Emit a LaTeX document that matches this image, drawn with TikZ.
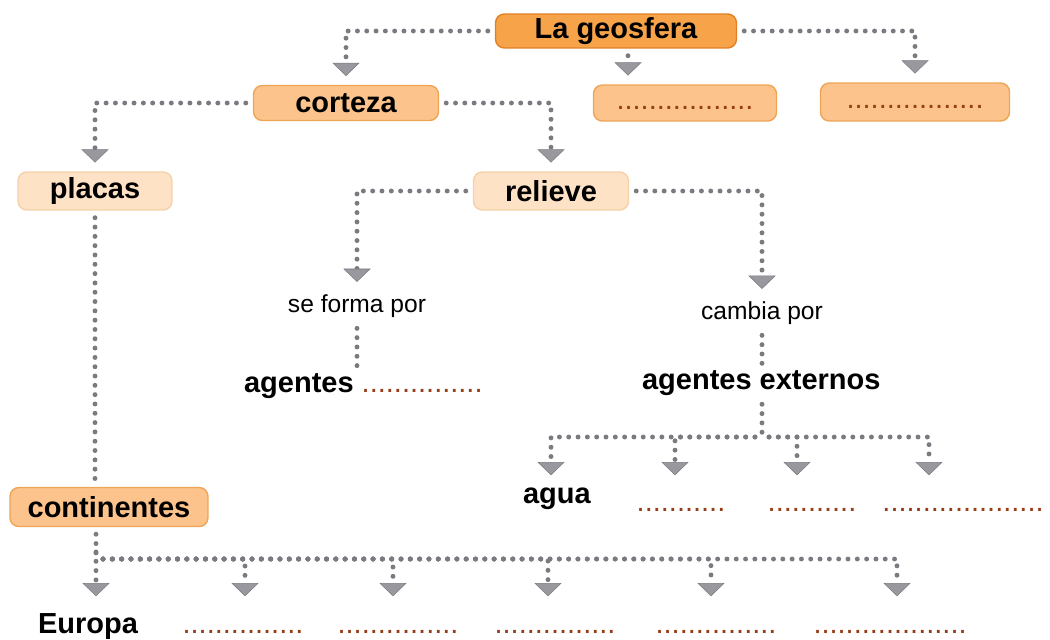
\documentclass[tikz,border=0pt]{standalone}
\usepackage{fontspec}
\setmainfont{Liberation Sans}
\usetikzlibrary{arrows.meta,positioning}

\definecolor{geofill}{RGB}{246,163,74}
\definecolor{geoline}{RGB}{226,128,36}
\definecolor{midfill}{RGB}{252,196,140}
\definecolor{midline}{RGB}{238,164,84}
\definecolor{palefill}{RGB}{253,226,198}
\definecolor{paleline}{RGB}{246,208,168}
\definecolor{linkgray}{RGB}{122,122,128}
\definecolor{tipgray}{RGB}{152,152,158}
\definecolor{dotbrown}{RGB}{150,62,24}

\newcommand{\blankdots}[1]{\textcolor{dotbrown}{\mdseries #1}}

\begin{document}
\begin{tikzpicture}[
    x=0.02cm, y=-0.02cm,
    box/.style={
      rounded corners=5pt,
      line width=0.8pt,
      minimum height=0.7cm,
      inner sep=0pt,
      font=\fontsize{16.5}{19}\selectfont\bfseries
    },
    geobox/.style={box, draw=geoline, fill=geofill},
    midbox/.style={box, draw=midline, fill=midfill},
    palebox/.style={box, draw=paleline, fill=palefill, minimum height=0.76cm},
    word/.style={font=\fontsize{16.5}{19}\selectfont\bfseries, inner sep=1pt},
    note/.style={font=\fontsize{14}{16}\selectfont, inner sep=2pt},
    dotline/.style={
      draw=linkgray,
      line width=2.8pt,
      line cap=round,
      dash pattern=on 0pt off 5.3pt,
      shorten <=4pt
    },
    link/.style={
      dotline,
      -{Triangle[width=15.5pt, length=7.5pt, fill=tipgray, line width=0.3pt]},
      shorten >=5pt
    }
  ]
    \useasboundingbox (0,0) rectangle (1050,639);

    \node[geobox, minimum width=4.82cm, minimum height=0.68cm] (geo) at (616,31) {La geosfera};

    \node[midbox, minimum width=3.7cm] (corteza) at (346,103) {corteza};
    \node[midbox, minimum width=3.66cm, minimum height=0.72cm] (blankA) at (685,103)
      {\strut\blankdots{.................}};
    \node[midbox, minimum width=3.78cm, minimum height=0.76cm] (blankB) at (915,102)
      {\strut\blankdots{.................}};
    \coordinate (midcol) at (628,0);

    \node[palebox, minimum width=3.08cm] (placas) at (95,191) {placas};
    \node[palebox, minimum width=3.1cm] (relieve) at (551,191) {relieve};

    \node[note] (forma) at (357,306) {se forma por};
    \node[note] (cambia) at (762,313) {cambia por};

    \node[word, anchor=base west] (agentes) at (242,392) {agentes \blankdots{...............}};
    \node[word, anchor=base west] (externos) at (640,389) {agentes externos};
    \coordinate (fork) at (762,437);

    \node[word, anchor=base west] (agua) at (521,503) {agua};
    \node[word, anchor=base] (aguaB) at (681,511) {\blankdots{...........}};
    \node[word, anchor=base] (aguaC) at (812,511) {\blankdots{...........}};
    \node[word, anchor=base] (aguaD) at (963,511) {\blankdots{....................}};

    \node[midbox, minimum width=3.96cm, minimum height=0.78cm] (continentes) at (109,507) {continentes};
    \coordinate (eurofork) at (96,559);

    \node[word, anchor=base west] (europa) at (36,633) {Europa};
    \node[word, anchor=base] (euroB) at (243,633) {\blankdots{...............}};
    \node[word, anchor=base] (euroC) at (398,633) {\blankdots{...............}};
    \node[word, anchor=base] (euroD) at (555,633) {\blankdots{...............}};
    \node[word, anchor=base] (euroE) at (716,633) {\blankdots{...............}};
    \node[word, anchor=base] (euroF) at (890,633) {\blankdots{...................}};

    \foreach \x [count=\i] in {551,675,797,929}
      \coordinate (w\i) at (\x,484);
    \foreach \x [count=\i] in {96,245,393,548,711,897}
      \coordinate (e\i) at (\x,605);

    \draw[link] (geo.west) -| (corteza.north);
    \draw[link] (geo.south -| midcol) -- (blankA.north -| midcol);
    \draw[link] (geo.east) -| (blankB.north);

    \draw[link] (corteza.west) -| (placas.north);
    \draw[link] (corteza.east) -| (relieve.north);

    \draw[link] (relieve.west) -| (forma.north);
    \draw[link] (relieve.east) -| (cambia.north);

    \draw[dotline] (forma.south) -- (forma.south |- agentes.north);
    \draw[dotline] (cambia.south) -- (cambia.south |- externos.north);

    \draw[dotline] (externos.south -| fork) -- (fork);
    \foreach \i in {1,...,4}
      \draw[link] (fork) -| (w\i);

    \draw[dotline] (placas.south) -- (placas.south |- continentes.north);
    \draw[dotline] (continentes.south -| eurofork) -- (eurofork);
    \foreach \i in {1,...,6}
      \draw[link] (eurofork) -| (e\i);
  \end{tikzpicture}
\end{document}
